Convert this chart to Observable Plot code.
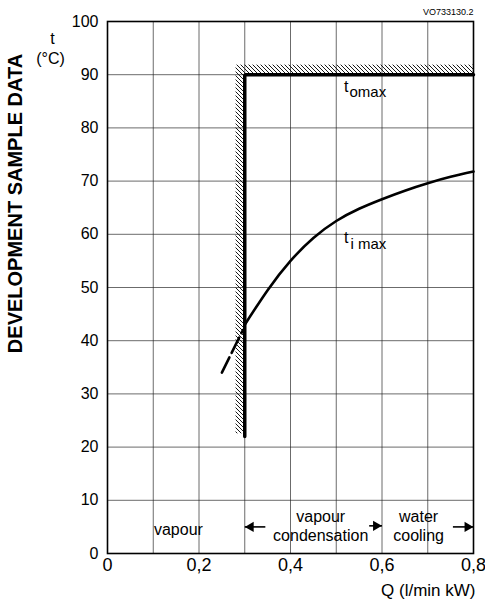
<!DOCTYPE html>
<html>
<head>
<meta charset="utf-8">
<script src="https://cdn.jsdelivr.net/npm/d3@7"></script>
<script src="https://cdn.jsdelivr.net/npm/@observablehq/plot@0.6"></script>
<style>
  html, body { margin: 0; padding: 0; background: white; }
</style>
</head>
<body>
<div id="chart"></div>
<script>
// ---- data ----
const xGridValues = [0, 0.1, 0.2, 0.3, 0.4, 0.5, 0.6, 0.7, 0.8];
const yGridValues = [0, 10, 20, 30, 40, 50, 60, 70, 80, 90, 100];
const xTickLabels = [0, 0.2, 0.4, 0.6, 0.8];
const yTickLabels = [0, 10, 20, 30, 40, 50, 60, 70, 80, 90, 100];

// t_o max limit (vertical + horizontal)
const toMaxX = [0.3, 0.3, 0.8];
const toMaxY = [22, 90, 90];

// t_i max curve (solid part)
const tiMaxX = [0.3, 0.35, 0.4, 0.45, 0.5, 0.55, 0.6, 0.65, 0.7, 0.75, 0.8];
const tiMaxY = [43, 49.5, 55, 59.3, 62.5, 64.8, 66.6, 68.2, 69.6, 70.8, 71.8];
// t_i max curve (dashed extrapolation)
const tiDashX = [0.25, 0.296];
const tiDashY = [34, 42];

// hatched boundary bands
const hatchBands = [
  {x1: 0.3, x2: 0.8, y1: 90, y2: 91.8},
  {x1: 0.281, x2: 0.3, y1: 22.5, y2: 91.8}
];

// region annotations
const regionLabels = [
  {x: 0.155, y: 4.5, text: "vapour"},
  {x: 0.466, y: 6.9, text: "vapour"},
  {x: 0.466, y: 3.4, text: "condensation"},
  {x: 0.68, y: 6.9, text: "water"},
  {x: 0.68, y: 3.4, text: "cooling"}
];
const regionArrows = [
  {x1: 0.345, x2: 0.3, y: 5},
  {x1: 0.572, x2: 0.6, y: 5.2},
  {x1: 0.755, x2: 0.8, y: 5}
];

const toMaxData = toMaxX.map((x, i) => ({x, y: toMaxY[i]}));
const tiMaxData = tiMaxX.map((x, i) => ({x, y: tiMaxY[i]}));
const tiDashData = tiDashX.map((x, i) => ({x, y: tiDashY[i]}));
const leftHeads = regionArrows.filter(d => d.x2 < d.x1);
const rightHeads = regionArrows.filter(d => d.x2 > d.x1);

const fmt = d => String(d).replace(".", ",");

const chart = Plot.plot({
  width: 485,
  height: 601,
  marginLeft: 107,
  marginRight: 12,
  marginTop: 21,
  marginBottom: 48,
  style: {fontFamily: "'Liberation Sans', Arial, sans-serif", fontSize: "15px", color: "black", background: "white"},
  x: {domain: [0, 0.8], label: null},
  y: {domain: [0, 100], label: null},
  marks: [
    Plot.gridX(xGridValues, {stroke: "#222", strokeOpacity: 0.75, strokeWidth: 0.9}),
    Plot.gridY(yGridValues, {stroke: "#222", strokeOpacity: 0.75, strokeWidth: 0.9}),
    Plot.rect(hatchBands, {x1: "x1", x2: "x2", y1: "y1", y2: "y2", fill: "url(#hatch)"}),
    Plot.frame({stroke: "black", strokeWidth: 1.6}),
    Plot.axisY(yTickLabels, {tickSize: 0, tickPadding: 9, fontSize: 16, tickFormat: d => String(d)}),
    Plot.axisX(xTickLabels, {tickSize: 0, tickPadding: 5, fontSize: 18, tickFormat: fmt}),
    Plot.line(toMaxData, {x: "x", y: "y", stroke: "black", strokeWidth: 3.5, strokeLinejoin: "miter"}),
    Plot.line(tiMaxData, {x: "x", y: "y", stroke: "black", strokeWidth: 2.6, curve: "natural"}),
    Plot.line(tiDashData, {x: "x", y: "y", stroke: "black", strokeWidth: 2.6, strokeDasharray: "17,5"}),
    // curve labels
    Plot.text(["t"], {x: 0.517, y: 87.7, fontSize: 16, textAnchor: "start"}),
    Plot.text(["omax"], {x: 0.529, y: 86.8, fontSize: 15, textAnchor: "start"}),
    Plot.text(["t"], {x: 0.517, y: 59.3, fontSize: 16, textAnchor: "start"}),
    Plot.text(["i max"], {x: 0.531, y: 58.2, fontSize: 15, textAnchor: "start"}),
    // region annotations
    Plot.text(regionLabels, {x: "x", y: "y", text: "text", fontSize: 16}),
    Plot.link(regionArrows, {x1: "x1", x2: "x2", y1: "y", y2: "y", stroke: "black", strokeWidth: 1.6}),
    Plot.dot(leftHeads, {x: "x2", y: "y", symbol: "triangle", rotate: -90, r: 3.8, fill: "black", stroke: "none", dx: 6}),
    Plot.dot(rightHeads, {x: "x2", y: "y", symbol: "triangle", rotate: 90, r: 3.8, fill: "black", stroke: "none", dx: -6}),
    // axis titles and side texts
    Plot.text(["t"], {frameAnchor: "top-left", textAnchor: "middle", lineAnchor: "middle", dx: -55, dy: 17, fontSize: 16}),
    Plot.text(["(°C)"], {frameAnchor: "top-left", textAnchor: "middle", lineAnchor: "middle", dx: -57, dy: 37, fontSize: 16}),
    Plot.text(["Q (l/min kW)"], {frameAnchor: "bottom-right", textAnchor: "end", lineAnchor: "middle", dx: 2, dy: 37, fontSize: 17}),
    Plot.text(["DEVELOPMENT SAMPLE DATA"], {frameAnchor: "top-left", textAnchor: "middle", lineAnchor: "middle", dx: -92, dy: 182, rotate: -90, fontSize: 20, fontWeight: "bold"}),
    Plot.text(["VO733130.2"], {frameAnchor: "top-right", textAnchor: "end", lineAnchor: "middle", dx: 0, dy: -9, fontSize: 9})
  ]
});

d3.select(chart).insert("defs", ":first-child").html(
  '<pattern id="hatch" patternUnits="userSpaceOnUse" width="4" height="4">' +
  '<path d="M-1,-1 L5,5 M-1,3 L1,5 M3,-1 L5,1" stroke="black" stroke-width="0.9"/></pattern>'
);

document.getElementById("chart").appendChild(chart);
</script>
</body>
</html>
